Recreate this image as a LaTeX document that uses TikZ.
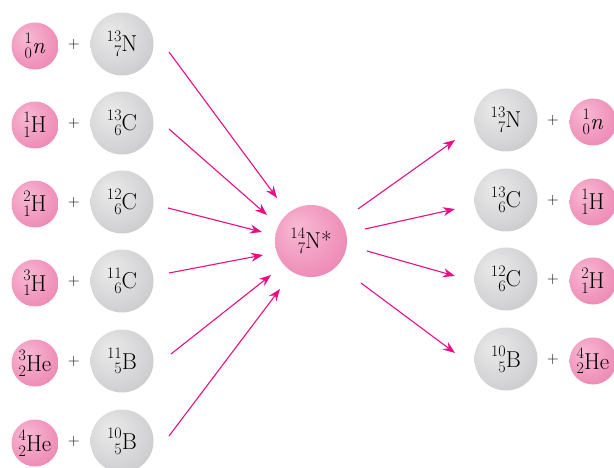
\documentclass[tikz,border=0pt]{standalone}
\usepackage{xcolor}
\usepackage{tikz}
\usetikzlibrary{arrows.meta}

\definecolor{pinkhi}{RGB}{248,186,212}
\definecolor{pinkmid}{RGB}{240,148,188}
\definecolor{pinklo}{RGB}{228,100,154}
\definecolor{grayhi}{RGB}{234,234,235}
\definecolor{graymid}{RGB}{212,212,214}
\definecolor{graylo}{RGB}{172,172,175}
\definecolor{arrowpink}{RGB}{232,14,136}
\pgfdeclareradialshading{pinkball}{\pgfpoint{-10bp}{10bp}}{color(0bp)=(pinkhi); color(25bp)=(pinkmid); color(60bp)=(pinklo)}
\pgfdeclareradialshading{grayball}{\pgfpoint{-10bp}{10bp}}{color(0bp)=(grayhi); color(25bp)=(graymid); color(60bp)=(graylo)}
% mass number over charge number, right aligned, before the symbol
\newcommand{\iso}[3]{\raisebox{-5pt}[21pt][5pt]{\fontsize{16}{15}\selectfont\begin{tabular}[b]{@{}r@{}}#1\\#2\end{tabular}}#3}

\begin{document}
\begin{tikzpicture}[x=1pt, y=-1pt, >={Stealth[length=12pt, width=9pt]},
  lightball/.style={circle, minimum size=47pt, inner sep=0pt, shading=pinkball, font=\fontsize{23}{26}\selectfont},
  heavyball/.style={circle, minimum size=63pt, inner sep=0pt, shading=grayball, font=\fontsize{23}{26}\selectfont},
  pluslabel/.style={font=\fontsize{16}{18}\selectfont},
  reaction/.style={->, draw=arrowpink, line width=1.1pt}]
  \useasboundingbox (0,0) rectangle (614,468);

  % incoming pairs
  \node[lightball] (p1) at (35,46) {\iso{1}{0}{\textit{n}}};
  \node[pluslabel] (s1) at (74,45) {+};
  \node[heavyball] (g1) at (122,44) {\iso{13}{7}{N}};
  \node[lightball] (p2) at (35,125) {\iso{1}{1}{H}};
  \node[pluslabel] (s2) at (74,124) {+};
  \node[heavyball] (g2) at (122,123) {\iso{13}{6}{C}};
  \node[lightball] (p3) at (35,204) {\iso{2}{1}{H}};
  \node[pluslabel] (s3) at (74,203) {+};
  \node[heavyball] (g3) at (122,202) {\iso{12}{6}{C}};
  \node[lightball] (p4) at (35,283) {\iso{3}{1}{H}};
  \node[pluslabel] (s4) at (74,282) {+};
  \node[heavyball] (g4) at (122,281) {\iso{11}{6}{C}};
  \node[lightball] (p5) at (35,363) {\iso{3}{2}{He}};
  \node[pluslabel] (s5) at (74,362) {+};
  \node[heavyball] (g5) at (122,361) {\iso{11}{5}{B}};
  \node[lightball] (p6) at (35,443) {\iso{4}{2}{He}};
  \node[pluslabel] (s6) at (74,442) {+};
  \node[heavyball] (g6) at (122,441) {\iso{10}{5}{B}};

  % compound nucleus
  \node[lightball, minimum size=72pt] (cn) at (311,241) {\iso{14}{7}{N*}};

  % outgoing pairs
  \node[heavyball] (h1) at (506,120) {\iso{13}{7}{N}};
  \node[pluslabel] (o1) at (553,121) {+};
  \node[lightball] (q1) at (593,122) {\iso{1}{0}{\textit{n}}};
  \node[heavyball] (h2) at (506,200) {\iso{13}{6}{C}};
  \node[pluslabel] (o2) at (553,201) {+};
  \node[lightball] (q2) at (593,202) {\iso{1}{1}{H}};
  \node[heavyball] (h3) at (506,279) {\iso{12}{6}{C}};
  \node[pluslabel] (o3) at (553,280) {+};
  \node[lightball] (q3) at (593,281) {\iso{2}{1}{H}};
  \node[heavyball] (h4) at (506,359) {\iso{10}{5}{B}};
  \node[pluslabel] (o4) at (553,360) {+};
  \node[lightball] (q4) at (593,361) {\iso{4}{2}{He}};

  % arrow ends
  \coordinate (in1) at (169,52);  \coordinate (at1) at (277,198);
  \coordinate (in2) at (169,129); \coordinate (at2) at (267,215);
  \coordinate (in3) at (168,208); \coordinate (at3) at (262,232);
  \coordinate (in4) at (169,273); \coordinate (at4) at (263,255);
  \coordinate (in5) at (171,354); \coordinate (at5) at (271,275);
  \coordinate (in6) at (169,436); \coordinate (at6) at (280,289);
  \coordinate (out1) at (358,209); \coordinate (to1) at (455,140);
  \coordinate (out2) at (365,229); \coordinate (to2) at (455,209);
  \coordinate (out3) at (367,251); \coordinate (to3) at (455,276);
  \coordinate (out4) at (361,283); \coordinate (to4) at (455,353);

  \draw[reaction] (in1) -- (at1);
  \draw[reaction] (in2) -- (at2);
  \draw[reaction] (in3) -- (at3);
  \draw[reaction] (in4) -- (at4);
  \draw[reaction] (in5) -- (at5);
  \draw[reaction] (in6) -- (at6);
  \draw[reaction] (out1) -- (to1);
  \draw[reaction] (out2) -- (to2);
  \draw[reaction] (out3) -- (to3);
  \draw[reaction] (out4) -- (to4);
\end{tikzpicture}
\end{document}
